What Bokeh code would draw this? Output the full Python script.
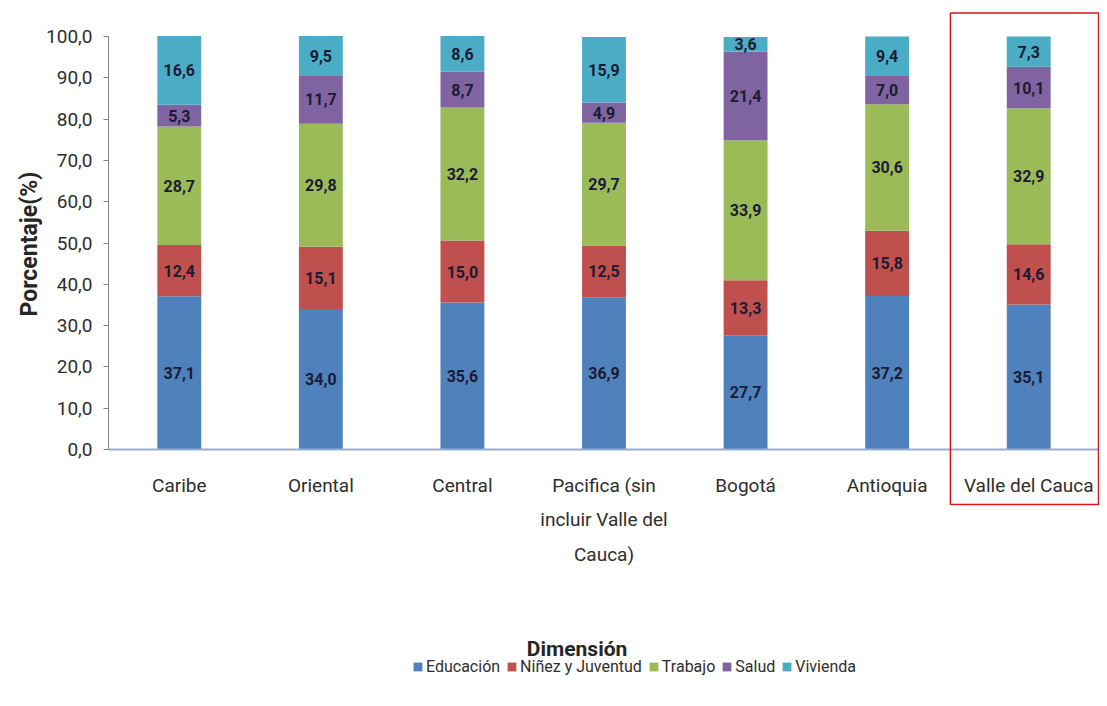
from bokeh.plotting import figure
from bokeh.models import (ColumnDataSource, FactorRange, Range1d, CustomJSTickFormatter,
                          BoxAnnotation, Legend, LegendItem, Label, Title, FixedTicker)
from bokeh.core.properties import value
from bokeh.embed import file_html
from bokeh.resources import INLINE

# ---------------- data ----------------
regions = ["Caribe", "Oriental", "Central", "Pacifica (sin\nincluir Valle del\nCauca)",
           "Bogotá", "Antioquia", "Valle del Cauca"]
dimensions = ["Educación", "Niñez y Juventud", "Trabajo", "Salud", "Vivienda"]
educacion = [37.1, 34.0, 35.6, 36.9, 27.7, 37.2, 35.1]
ninez = [12.4, 15.1, 15.0, 12.5, 13.3, 15.8, 14.6]
trabajo = [28.7, 29.8, 32.2, 29.7, 33.9, 30.6, 32.9]
salud = [5.3, 11.7, 8.7, 4.9, 21.4, 7.0, 10.1]
vivienda = [16.6, 9.5, 8.6, 15.9, 3.6, 9.4, 7.3]
y_ticks = [0, 10, 20, 30, 40, 50, 60, 70, 80, 90, 100]
highlight = "Valle del Cauca"
legend_title = "Dimensión"
y_title = "Porcentaje(%)"

colors = ["#4F81BD", "#C0504D", "#9BBB59", "#8064A2", "#4BACC6"]
FONT = "Roboto"
TXT = "#2e2e2e"

series = [educacion, ninez, trabajo, salud, vivienda]
keys = ["educacion", "ninez", "trabajo", "salud", "vivienda"]

src = ColumnDataSource(dict(region=regions, **{k: v for k, v in zip(keys, series)}))

# frame extends above 100 and below 0 so the highlight box, legend and title live inside it
p = figure(x_range=FactorRange(*regions), y_range=Range1d(-59.3, 106.05),
           frame_width=991, frame_height=683, output_backend="svg", toolbar_location=None,
           min_border_left=108, min_border_right=0, min_border_top=11, min_border_bottom=0)

renderers = p.vbar_stack(keys, x="region", width=0.31, color=colors, line_color=None, source=src)

# segment labels
lx, ly, lt = [], [], []
for i, r in enumerate(regions):
    base = 0.0
    for s in series:
        v = s[i]
        lx.append(r)
        ly.append(base + v / 2)
        lt.append(f"{v:.1f}".replace(".", ","))
        base += v
p.text(x="x", y="y", text="t", source=ColumnDataSource(dict(x=lx, y=ly, t=lt)),
       text_align="center", text_baseline="middle", text_font=value(FONT),
       text_font_size="16px", text_font_style="bold", text_color="#1b1b33")

# highlight box around Valle del Cauca
idx = regions.index(highlight)
p.add_layout(BoxAnnotation(left=idx - 0.053, right=idx + 0.993, bottom=-13.3, top=105.7,
                           fill_alpha=0, line_color="#D9141E", line_alpha=1.0, line_width=1.5))

# axes
p.yaxis.bounds = (0, 100)
p.yaxis.ticker = FixedTicker(ticks=y_ticks)
p.yaxis.formatter = CustomJSTickFormatter(code="return tick.toFixed(1).replace('.', ',');")
p.yaxis.major_label_text_font = FONT
p.yaxis.major_label_text_font_size = "19px"
p.yaxis.major_label_text_color = TXT
p.yaxis.major_label_standoff = 11
p.yaxis.axis_line_color = "#868686"
p.yaxis.major_tick_line_color = "#868686"
p.yaxis.major_tick_out = 5
p.yaxis.major_tick_in = 0
p.yaxis.minor_tick_line_color = None

p.add_layout(Title(text=y_title, text_font=FONT, text_font_size="23px", text_font_style="bold",
                   text_color="#262626", align="left", offset=378, standoff=2), "left")

p.xaxis.fixed_location = 0
p.xaxis.major_label_text_font = FONT
p.xaxis.major_label_text_font_size = "19px"
p.xaxis.major_label_text_color = TXT
p.xaxis.major_label_text_line_height = 1.5
p.xaxis.major_label_standoff = 18
p.xaxis.axis_line_color = "#9AABCF"
p.xaxis.axis_line_width = 2
p.xaxis.major_tick_line_color = None
p.xaxis.minor_tick_line_color = None

p.xgrid.grid_line_color = None
p.ygrid.grid_line_color = None
p.outline_line_color = None

# legend title and legend
p.add_layout(Label(x=3.31, y=-48.4, text=legend_title, text_font=FONT, text_font_size="21px",
                   text_font_style="bold", text_color="#262626",
                   text_align="center", text_baseline="middle"))
legend = Legend(items=[LegendItem(label=d, renderers=[r]) for d, r in zip(dimensions, renderers)],
                orientation="horizontal", location=(304, 18),
                label_text_font=FONT, label_text_font_size="16px", label_text_color=TXT,
                glyph_width=11, glyph_height=11, label_standoff=3, spacing=6,
                border_line_color=None, background_fill_alpha=0, padding=0, margin=0)
p.add_layout(legend, "center")

open("out.html", "w").write(file_html(p, INLINE))
